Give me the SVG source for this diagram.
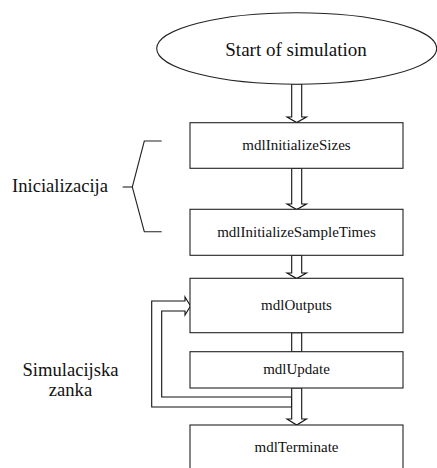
<svg xmlns="http://www.w3.org/2000/svg" width="437" height="468" viewBox="0 0 437 468" font-family="'Liberation Serif', 'DejaVu Serif', serif">
<style>
  .box { fill: #fff; stroke: #222; stroke-width: 1.1; }
  .arr { fill: #fff; stroke: #111; stroke-width: 1.1; stroke-linejoin: miter; }
  text { font-family: 'Liberation Serif', 'DejaVu Serif', serif; fill: #111; text-anchor: middle; }
  .bt { font-size: 15px; }
  .lbl { font-size: 18.6px; }
  .br { fill: none; stroke: #222; stroke-width: 1.1; }
</style>
<rect width="437" height="468" fill="#fff"/>
<g id="connectors">
  <polygon class="arr" points="291.7,84 291.7,117 287,117 296.7,122.5 306.5,117 301.7,117 301.7,84"/>
  <polygon class="arr" points="291.7,168.3 291.7,204 287,204 296.7,209.5 306.5,204 301.7,204 301.7,168.3"/>
  <polygon class="arr" points="291.7,255.3 291.7,273 287,273 296.7,278.5 306.5,273 301.7,273 301.7,255.3"/>
  <polygon class="arr" points="291.7,332.7 291.7,351.7 301.7,351.7 301.7,332.7"/>
  <polygon class="arr" points="291.7,397 161.7,397 161.7,311 185,311 185,315 190.5,306 185,297 185,301 151.7,301 151.7,407 291.7,407"/>
  <polygon class="arr" points="291.7,388 291.7,419 287,419 296.7,425 306.5,419 301.7,419 301.7,388"/>
</g>
<g id="start">
  <ellipse class="box" cx="296.7" cy="48.5" rx="140" ry="35.8"/>
  <text x="296" y="55.5" font-size="19">Start of simulation</text>
</g>
<g id="mdlInitializeSizes">
  <rect class="box" x="190" y="122.7" width="213" height="45.6"/>
  <text class="bt" x="296.5" y="150">mdlInitializeSizes</text>
</g>
<g id="mdlInitializeSampleTimes">
  <rect class="box" x="190" y="209.3" width="213" height="46"/>
  <text class="bt" x="296.5" y="236.7">mdlInitializeSampleTimes</text>
</g>
<g id="mdlOutputs">
  <rect class="box" x="190" y="278.3" width="213" height="54.4"/>
  <text class="bt" x="296.5" y="309.5">mdlOutputs</text>
</g>
<g id="mdlUpdate">
  <rect class="box" x="190" y="351.7" width="213" height="36.3"/>
  <text class="bt" x="296.5" y="373.5">mdlUpdate</text>
</g>
<g id="mdlTerminate">
  <rect class="box" x="190" y="425" width="213" height="50"/>
  <text class="bt" x="296.5" y="451.7">mdlTerminate</text>
</g>
<g id="inicializacija">
  <polyline class="br" points="161.7,141 144.3,141 132.3,187 144.3,231.7 161.7,231.7"/>
  <line class="br" x1="122.7" y1="187" x2="132.3" y2="187"/>
  <text class="lbl" x="60" y="191.7">Inicializacija</text>
</g>
<g id="simulacijska-zanka">
  <text class="lbl" x="70.5" y="376">Simulacijska</text>
  <text class="lbl" x="70.5" y="395.5">zanka</text>
</g>
</svg>
